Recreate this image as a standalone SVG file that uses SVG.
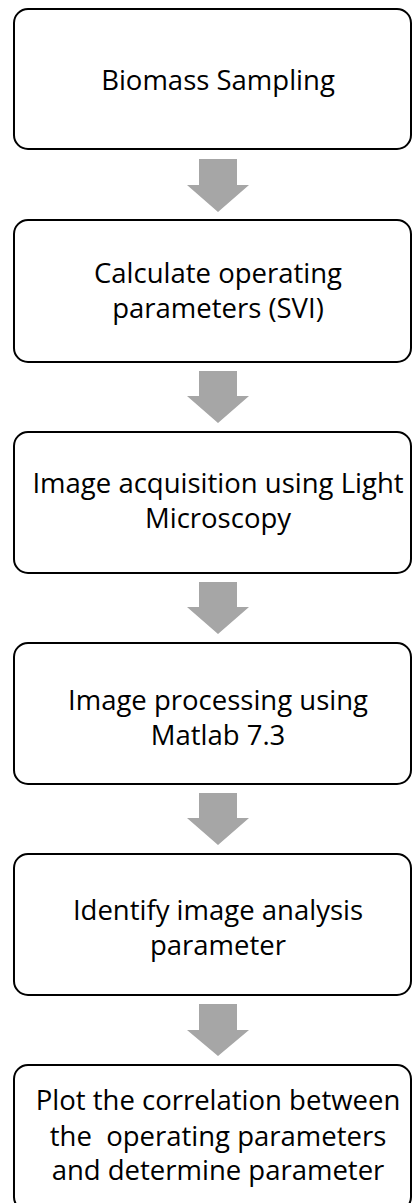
<svg xmlns="http://www.w3.org/2000/svg" width="413" height="1203" viewBox="0 0 413 1203">
<style>
.box{fill:#fff;stroke:#000;stroke-width:2}
.lbl{font-family:"Open Sans","Liberation Sans",sans-serif;font-size:27.5px;fill:#000;text-anchor:middle}
.arr{fill:#A6A6A6}
</style>
<rect width="413" height="1203" fill="#fff"/>
<g id="connectors">
<path class="arr" d="M199,159 H237 V185 H249 L218,212 L187,185 H199 Z"/>
<path class="arr" d="M199,371 H237 V396 H249 L218,423 L187,396 H199 Z"/>
<path class="arr" d="M199,582 H237 V607 H249 L218,634 L187,607 H199 Z"/>
<path class="arr" d="M199,793 H237 V818 H249 L218,845 L187,818 H199 Z"/>
<path class="arr" d="M199,1004 H237 V1030 H249 L218,1056 L187,1030 H199 Z"/>
</g>
<g id="n1">
<rect class="box" x="14" y="9" width="397" height="140" rx="14"/>
<text class="lbl" x="218" y="90">Biomass Sampling</text>
</g>
<g id="n2">
<rect class="box" x="14" y="220" width="397" height="142" rx="14"/>
<text class="lbl" x="218" y="283">Calculate operating</text>
<text class="lbl" x="218" y="318">parameters (SVI)</text>
</g>
<g id="n3">
<rect class="box" x="14" y="432" width="397" height="141" rx="14"/>
<text class="lbl" x="218" y="493">Image acquisition using Light</text>
<text class="lbl" x="218" y="528">Microscopy</text>
</g>
<g id="n4">
<rect class="box" x="14" y="643" width="397" height="141" rx="14"/>
<text class="lbl" x="218" y="710">Image processing using</text>
<text class="lbl" x="218" y="745">Matlab 7.3</text>
</g>
<g id="n5">
<rect class="box" x="14" y="854" width="397" height="141" rx="14"/>
<text class="lbl" x="218" y="920">Identify image analysis</text>
<text class="lbl" x="218" y="955">parameter</text>
</g>
<g id="n6">
<rect class="box" x="14" y="1065" width="397" height="146" rx="14"/>
<text class="lbl" x="218" y="1110">Plot the correlation between</text>
<text class="lbl" x="218" y="1146" xml:space="preserve">the  operating parameters</text>
<text class="lbl" x="218" y="1180">and determine parameter</text>
</g>
</svg>
